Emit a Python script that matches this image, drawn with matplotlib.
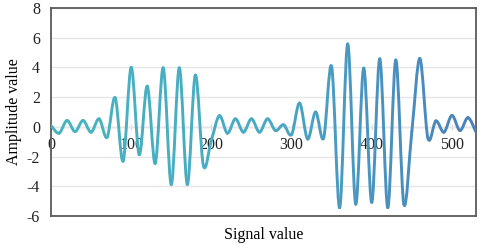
import matplotlib
matplotlib.use("Agg")
import matplotlib.pyplot as plt
import numpy as np
from matplotlib.path import Path
from matplotlib.patches import PathPatch
from matplotlib.colors import LinearSegmentedColormap, Normalize

plt.rcParams['font.family'] = ['Liberation Serif', 'DejaVu Serif']

# Data
signal_x = list(range(0, 540, 10))
amplitude = [0.1, -0.43, 0.43, -0.32, 0.43, -0.36, 0.54, -0.7, 1.96, -2.3,
             4.0, -1.87, 2.74, -2.46, 3.97, -3.88, 3.97, -3.88, 3.48, -2.6,
             -0.9, 0.75, -0.43, 0.54, -0.36, 0.54, -0.36, 0.54, -0.25, 0.14,
             -0.52, 1.6, -0.82, 1.0, -0.75, 4.05, -5.44, 5.58, -5.2, 3.95,
             -5.08, 4.58, -5.44, 4.5, -5.2, -0.3, 4.6, -0.75, 0.4, -0.36,
             0.77, -0.25, 0.62, -0.36]
x_ticks = [0, 100, 200, 300, 400, 500]
y_ticks = [-6, -4, -2, 0, 2, 4, 6, 8]

fig = plt.figure(figsize=(4.8, 2.44), dpi=100)
ax = fig.add_axes([51/480, 1-216/244, 425/480, 208/244])
ax.set_xlim(0, 530)
ax.set_ylim(-6, 8)

for s in ax.spines.values():
    s.set_color('#5a5a5a')
    s.set_linewidth(1.3)

ax.set_yticks(y_ticks)
ax.set_yticklabels([str(v) for v in y_ticks], fontsize=11.5)
ax.tick_params(axis='y', length=0, pad=8, colors='#222222')
ax.yaxis.grid(True, color='#e6e6e6', linewidth=1.0)
ax.set_axisbelow(True)

ax.set_xticks([])
ax.set_xlabel('Signal value', fontsize=11.5, labelpad=8)
ax.set_ylabel('Amplitude value', fontsize=11.5, labelpad=3)

# x axis crossing at zero
sec = ax.secondary_xaxis(6/14)
sec.set_xticks(x_ticks)
sec.set_xticklabels([str(v) for v in x_ticks], fontsize=11.5)
sec.spines['bottom'].set_color('#d9d9d9')
sec.spines['bottom'].set_linewidth(1.0)
sec.tick_params(axis='x', length=4, direction='inout', color='#d9d9d9', pad=5,
                labelcolor='#222222')

# smoothed line (Catmull-Rom style Bezier like spreadsheet smoothing), gradient colour
cmap = LinearSegmentedColormap.from_list('g', ['#47b4bf', '#49a9c4', '#4a80ba'])
norm = Normalize(0, 530)
X = np.array(signal_x, dtype=float)
Y = np.array(amplitude, dtype=float)
n = len(X)
for i in range(n - 1):
    p0 = np.array([X[max(i-1, 0)], Y[max(i-1, 0)]])
    p1 = np.array([X[i], Y[i]])
    p2 = np.array([X[i+1], Y[i+1]])
    p3 = np.array([X[min(i+2, n-1)], Y[min(i+2, n-1)]])
    c1 = p1 + (p2 - p0) / 6.0
    c2 = p2 - (p3 - p1) / 6.0
    path = Path([p1, c1, c2, p2], [Path.MOVETO, Path.CURVE4, Path.CURVE4, Path.CURVE4])
    col = cmap(norm((X[i] + X[i+1]) / 2))
    patch = PathPatch(path, facecolor='none', edgecolor=col, linewidth=2.1,
                      capstyle='round', joinstyle='round', zorder=3)
    ax.add_patch(patch)

fig.savefig('out.png', dpi=100)
